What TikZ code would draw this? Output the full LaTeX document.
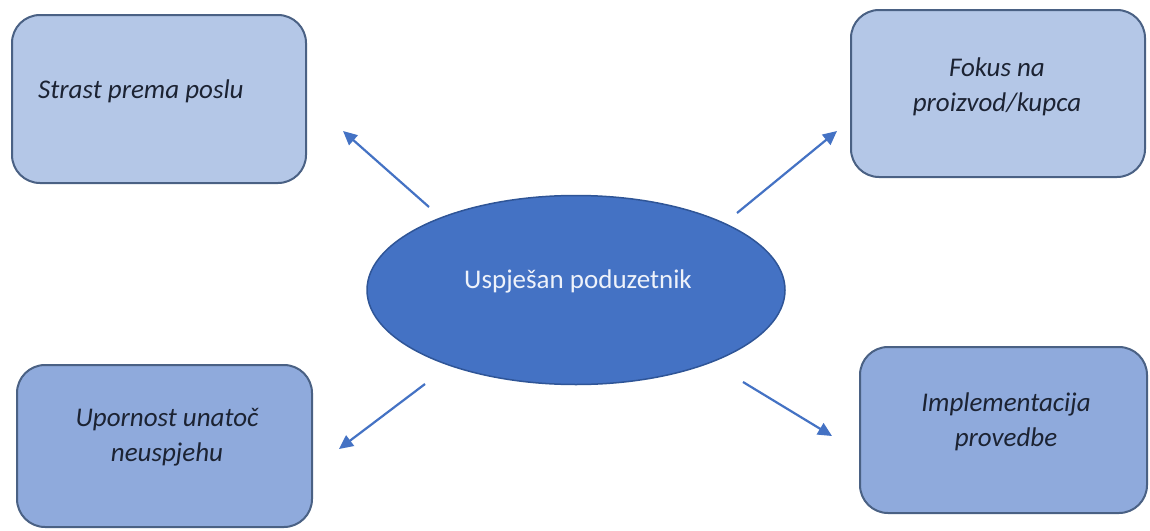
\documentclass[tikz,border=0pt]{standalone}
\usepackage{fontspec}
\setmainfont{Carlito}
\usetikzlibrary{arrows.meta,shapes.geometric}
\definecolor{boxtop}{HTML}{B4C7E7}
\definecolor{boxbot}{HTML}{8FAADC}
\definecolor{boxline}{HTML}{4A6184}
\definecolor{ellfill}{HTML}{4472C4}
\definecolor{ellline}{HTML}{2F5597}
\definecolor{arrowc}{HTML}{4472C4}
\definecolor{txt}{HTML}{1C2333}
\definecolor{elltxt}{HTML}{EEF2FA}
\begin{document}
\begin{tikzpicture}[x=1pt,y=-1pt,
  card/.style={draw=boxline, line width=2pt, rounded corners=28pt, inner sep=0pt},
  cardtext/.style={inner sep=0pt, text=txt, align=center, font=\fontsize{27}{35}\selectfont\itshape},
  link/.style={draw=arrowc, line width=2.2pt, -{Triangle[length=14pt,width=13pt]}}]
\useasboundingbox[fill=white] (0,0) rectangle (1150,530);
% boxes
\node[card, fill=boxtop, minimum width=294pt, minimum height=168pt] (b1) at (159,99) {};
\node[card, fill=boxtop, minimum width=294pt, minimum height=167pt] (b2) at (998,93.5) {};
\node[card, fill=boxbot, minimum width=295pt, minimum height=162pt] (b3) at (164.5,446) {};
\node[card, fill=boxbot, minimum width=287pt, minimum height=166pt] (b4) at (1003.5,430) {};
% texts
\node[cardtext, anchor=base west] (t1) at (38,98) {Strast prema poslu};
\node[cardtext] (t2) at (997,86.5) {Fokus na\\proizvod/kupca};
\node[cardtext] (t3) at (167,437) {Upornost unatoč\\neuspjehu};
\node[cardtext] (t4) at (1006,421.5) {Implementacija\\provedbe};
% centre
\node[ellipse, draw=ellline, line width=1.5pt, fill=ellfill, minimum width=418pt, minimum height=189pt, inner sep=0pt] (ell) at (576,290) {};
\node[inner sep=0pt, text=elltxt, font=\fontsize{27}{35}\selectfont, anchor=base] (t0) at (578,288) {Uspješan poduzetnik};
% arrows
\coordinate (a1s) at (429,207); \coordinate (a1e) at (343,131);
\coordinate (a2s) at (737,213); \coordinate (a2e) at (837,131);
\coordinate (a3s) at (425,384); \coordinate (a3e) at (339,449);
\coordinate (a4s) at (743,382); \coordinate (a4e) at (832,436);
\draw[link] (a1s) -- (a1e);
\draw[link] (a2s) -- (a2e);
\draw[link] (a3s) -- (a3e);
\draw[link] (a4s) -- (a4e);
\end{tikzpicture}
\end{document}
